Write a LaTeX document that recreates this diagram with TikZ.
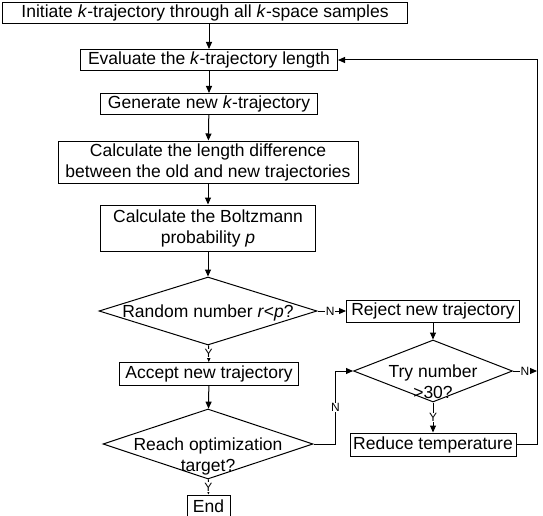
\documentclass[tikz,border=0pt]{standalone}
\usepackage{fontspec}
\setmainfont{Liberation Sans}
\usetikzlibrary{shapes.geometric,arrows.meta}

\newcommand{\dtxt}[1]{\smash{\raisebox{-6pt}{\makebox[0pt]{\begin{tabular}[t]{@{}c@{}}#1\end{tabular}}}}}

\tikzset{
  stepbox/.style={draw, rectangle, inner sep=0pt, align=center,
    font=\fontsize{17.5}{21}\selectfont},
  decision/.style={draw, diamond, inner sep=0pt,
    font=\fontsize{17.5}{21}\selectfont},
  arr/.style={-{Triangle[length=7pt,width=6pt]}},
  yn/.style={fill=white, inner sep=0.6pt, font=\fontsize{12}{13}\selectfont}
}

\begin{document}
\begin{tikzpicture}[x=1pt, y=-1pt, line width=1pt]

\useasboundingbox (0,0) rectangle (543,516);

% main column
\node[stepbox, minimum width=405, minimum height=21] (init) at (205,13)
  {Initiate \textit{k}-trajectory through all \textit{k}-space samples};
\node[stepbox, minimum width=257, minimum height=21] (eval) at (209,60)
  {Evaluate the \textit{k}-trajectory length};
\node[stepbox, minimum width=217, minimum height=21] (gen) at (209,104)
  {Generate new \textit{k}-trajectory};
\node[stepbox, minimum width=300, minimum height=42] (diff) at (208,162)
  {Calculate the length difference\\between the old and new trajectories};
\node[stepbox, minimum width=215, minimum height=46] (boltz) at (208,228)
  {Calculate the Boltzmann\\probability \textit{p}};
\node[decision, minimum width=218, minimum height=68] (rand) at (208,311)
  {\dtxt{Random number \textit{r}<\textit{p}?}};
\node[stepbox, minimum width=179, minimum height=23] (accept) at (209,374)
  {Accept new trajectory};
\node[decision, minimum width=210, minimum height=70] (reach) at (208,444)
  {\dtxt{Reach optimization\\target?}};
\node[stepbox, minimum width=43, minimum height=22] (end) at (208.5,506)
  {End};

% right column
\node[stepbox, minimum width=173, minimum height=22] (reject) at (433,311)
  {Reject new trajectory};
\node[decision, minimum width=159, minimum height=62] (try) at (433,371)
  {\dtxt{Try number\\>30?}};
\node[stepbox, minimum width=166, minimum height=23] (reduce) at (433,444.5)
  {Reduce temperature};

\coordinate (loop) at (537,0);

% straight arrows
\draw[arr] (init.south -| eval) -- (eval);
\foreach \a/\b in {eval/gen, gen/diff, diff/boltz, boltz/rand, accept/reach, reject/try}
  \draw[arr] (\a) -- (\b);

% yes / no branches
\draw[arr] (rand) -- node[yn]{Y} (accept);
\draw[arr] (rand) -- node[yn, pos=0.45]{N} (reject);
\draw[arr] (reach) -- node[yn]{Y} (end);
\draw[arr] (try) -- node[yn]{Y} (reduce);
\draw[arr] (reach.east) -- ++(22,0) |- node[yn, pos=0.25]{N} (try.west);
\draw[arr] (try.east) -- node[yn, pos=0.5]{N} (try.east -| loop);

% back to the length evaluation
\draw[arr] (reduce.east) -- (reduce.east -| loop) -- (eval.east -| loop) -- (eval.east);

\end{tikzpicture}
\end{document}
